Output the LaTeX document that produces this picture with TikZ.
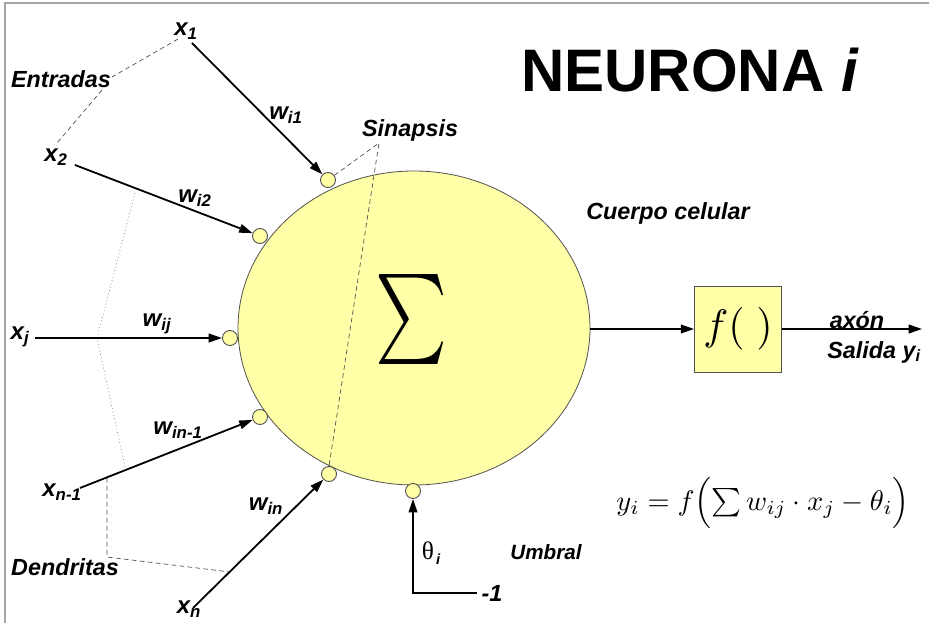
\documentclass[tikz,border=0pt]{standalone}
\usepackage[no-math]{fontspec}
\setmainfont{Liberation Sans}
\newfontfamily\serifgr{Liberation Serif}
\usetikzlibrary{arrows.meta,shapes.geometric}
\definecolor{cellfill}{RGB}{255,255,168}
\definecolor{edgegray}{RGB}{80,80,80}
\definecolor{framegray}{RGB}{165,165,165}
\begin{document}
\begin{tikzpicture}[x=0.75pt,y=-0.75pt,
  lbl/.style={font=\fontsize{17.5}{20}\selectfont\bfseries\itshape, inner sep=0pt},
  var/.style={font=\fontsize{18}{20}\selectfont\bfseries\itshape, inner sep=0pt},
  syn/.style={circle, draw=edgegray, fill=cellfill, minimum size=11.25pt, inner sep=0pt, line width=0.7pt},
  arr/.style={-{Triangle[length=10pt,width=6.5pt]}, line width=1.35pt},
  guide/.style={dash pattern=on 3.5pt off 2.5pt, draw=black!70, line width=0.5pt},
  dend/.style={dotted, draw=black!45, line width=0.6pt}]
\useasboundingbox (0,0) rectangle (929,623);
\fill[white] (0,0) rectangle (929,623);
\draw[framegray, line width=1.5pt] (5,623) -- (5,3) -- (929,3);

% cell body
\node[ellipse, draw=edgegray, fill=cellfill, line width=0.6pt, minimum width=264pt, minimum height=235.5pt, inner sep=0pt] (cell) at (414,328) {};
\node[inner sep=0pt] (sig) at (411,320) {\resizebox*{54pt}{67.5pt}{$\sum$}};

% synapses
\node[syn] (s1) at (328,180) {};
\node[syn] (s2) at (260,236) {};
\node[syn] (s3) at (230,338) {};
\node[syn] (s4) at (260,417) {};
\node[syn] (s5) at (329,474) {};
\node[syn] (s0) at (413,491) {};

% guide lines
\coordinate (e1) at (178,39);
\coordinate (e2) at (112,77);
\coordinate (e3) at (102,90);
\coordinate (e4) at (57,143);
\draw[guide] (e1) -- (e2);
\draw[guide] (e3) -- (e4);
\coordinate (sg) at (379,143);
\draw[guide] (s1) -- (sg) -- (329,466);
\coordinate (d1) at (135,193);
\coordinate (d2) at (97,338);
\coordinate (d3) at (125,467);
\draw[dend] (d1) -- (d2) -- (d3);
\coordinate (g1) at (107,478);
\coordinate (g2) at (107,557);
\coordinate (g3) at (230,572);
\draw[guide] (g1) -- (g2) -- (g3);

% inputs
\coordinate (a1) at (192,43);
\coordinate (a2) at (75,165);
\coordinate (a3) at (35,338);
\coordinate (a4) at (80,488);
\coordinate (a5) at (193,608);
\draw[arr] (a1) -- (s1);
\draw[arr] (a2) -- (s2);
\draw[arr] (a3) -- (s3);
\draw[arr] (a4) -- (s4);
\draw[arr] (a5) -- (s5);

\node[var] (x1) at (186,31) {x\textsubscript{1}};
\node[var] (x2) at (56,157) {x\textsubscript{2}};
\node[var] (xj) at (20,337) {x\textsubscript{j}};
\node[var] (xn1) at (62,492) {x\textsubscript{n-1}};
\node[var] (xn) at (189,609) {x\textsubscript{n}};

\node[var] (w1) at (286,115) {w\textsubscript{i1}};
\node[var] (w2) at (195,198) {w\textsubscript{i2}};
\node[var] (wj) at (157,324) {w\textsubscript{ij}};
\node[var] (wn1) at (178,430) {w\textsubscript{in-1}};
\node[var] (wn) at (266,506) {w\textsubscript{in}};

\node[lbl] (entr) at (61,79) {Entradas};
\node[lbl] (dend) at (65,567) {Dendritas};
\node[lbl] (sinap) at (410,130) {Sinapsis};
\node[lbl] (cuerpo) at (668,213) {Cuerpo celular};

% title
\node[font=\fontsize{45}{50}\selectfont\bfseries, inner sep=0pt] (title) at (690,70) {NEURONA \textit{i}};

% activation box
\node[draw=edgegray, fill=cellfill, line width=0.6pt, minimum width=65.25pt, minimum height=64.5pt, inner sep=0pt] (fbox) at (738,329) {\resizebox*{52pt}{32pt}{$f(\;)$}};
\draw[arr] (cell.east |- fbox.west) -- (fbox.west);
\coordinate (out) at (922,329);
\draw[arr] (fbox.east) -- (out);
\node[lbl] (axon) at (857,320) {axón};
\node[lbl] (salida) at (874,352) {Salida y\textsubscript{i}};

% threshold
\coordinate (m1) at (413,593);
\coordinate (m1e) at (477,593);
\draw[arr] (m1e) -- (m1) -- (s0);
\node[lbl] (minus) at (492,593) {-1};
\node[inner sep=0pt] (theta) at (431,553) {{\serifgr\fontsize{19}{19}\selectfont θ}\,\raisebox{-4pt}{\fontsize{11}{11}\selectfont\bfseries\itshape i}};
\node[font=\fontsize{15.5}{18}\selectfont\bfseries\itshape, inner sep=0pt] (umbral) at (546,552) {Umbral};

% formula
\node[inner sep=0pt] (formula) at (763,503) {\resizebox{220pt}{!}{$y_i = f\Bigl(\sum w_{ij}\cdot x_j - \theta_i\Bigr)$}};
\end{tikzpicture}
\end{document}
